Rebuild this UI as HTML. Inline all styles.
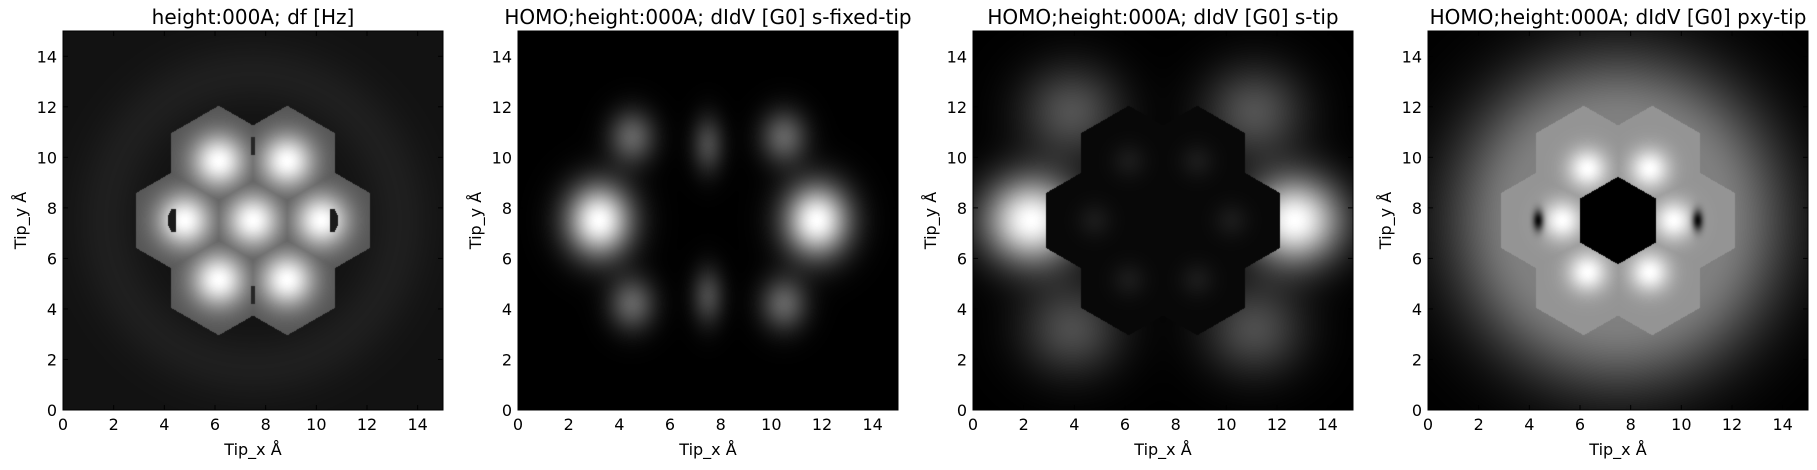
<!DOCTYPE html>
<html><head><meta charset="utf-8">
<style>
body{margin:0;background:#fff;width:1817px;height:470px;overflow:hidden;font-family:"DejaVu Sans","Liberation Sans",sans-serif;}
svg text{font-family:"DejaVu Sans","Liberation Sans",sans-serif;fill:#000;}
canvas{position:absolute;}
</style></head>
<body>
<div id="root" style="position:relative;width:1817px;height:470px;">
<svg id="svg" width="1817" height="470" style="position:absolute;left:0;top:0;"></svg>
</div>
<script>
// ---- data ----
const titles = ["height:000A; df [Hz]","HOMO;height:000A; dIdV [G0] s-fixed-tip","HOMO;height:000A; dIdV [G0] s-tip","HOMO;height:000A; dIdV [G0] pxy-tip"];
const tickValues = [0,2,4,6,8,10,12,14];
const atomX = [6.15,8.85,4.8,7.5,10.2,6.15,8.85];
const atomY = [9.85,9.85,7.5,7.5,7.5,5.15,5.15];
// panel 2 gaussian lobes
const p2X = [3.2,11.8,4.5,10.5,4.5,10.5,7.5,7.5];
const p2Y = [7.5,7.5,10.8,10.8,4.2,4.2,10.5,4.5];
const p2A = [1.0,1.0,0.38,0.38,0.38,0.38,0.28,0.28];
// panel 3 lobes (outside molecule)
const p3X = [2.3,12.7,3.9,11.1,3.9,11.1];
const p3Y = [7.5,7.5,11.8,11.8,3.2,3.2];
const p3A = [1.0,1.0,0.32,0.32,0.3,0.3];
// panel 4 bright spots and dark spots
const p4X = [6.3,8.75,5.3,9.7,6.3,8.75];
const p4Y = [9.55,9.55,7.5,7.5,5.45,5.45];
const p4DarkX = [4.35,10.65];
const p4DarkY = [7.5,7.5];

const axLeft = [63,518,973,1428], axTop = 31, axW = 380, axH = 379, range = 15;
const R = 1.9;

function hexDist(dx,dy){dx=Math.abs(dx);dy=Math.abs(dy);return Math.max(dx, dx*0.5+dy*0.866);}
function nearest(x,y){let bi=-1,bd=1e9;for(let i=0;i<atomX.length;i++){const e=Math.hypot(x-atomX[i],y-atomY[i]);if(e<bd){bd=e;bi=i;}}return [hexDist(x-atomX[bi],y-atomY[bi]),bi,bd];}
function g(x,y,cx,cy,s){const dx=x-cx,dy=y-cy;return Math.exp(-(dx*dx+dy*dy)/(2*s*s));}

function val(p,x,y){
  const [hd,bi,ed]=nearest(x,y);
  const inMol = hd<R;
  const r=Math.hypot(x-7.5,y-7.5);
  if(p===0){
    if(inMol){const dx=x-atomX[bi],dy=y-atomY[bi];let v=0.33+0.67*Math.exp(-(dx*dx+dy*dy)/1.1);
      for(let k=0;k<2;k++){const ddx=x-[4.4,10.6][k],ddy=y-7.5;const s=k?-1:1;
        const edge=s*0.15*(1-(ddy*ddy)/0.2);
        if(Math.abs(ddy)<0.45 && (k===0? (ddx>-0.12+(-edge) && ddx<0.05) : (ddx<0.12-edge && ddx>-0.05)))v=0.1;}
      if(Math.abs(x-7.5)<0.06&&((Math.abs(y-7.5)>2.6&&Math.abs(y-7.5)<3.3)))v=0.15;
      return v;}
    return 0.07+0.05*Math.exp(-Math.pow((r-5.8)/1.3,2));
  }
  if(p===1){let v=0;for(let i=0;i<p2X.length;i++){const sx_=i<2?0.9:(i<6?0.65:0.45), sy_=i<2?1.0:(i<6?0.75:0.8);v+=p2A[i]*Math.exp(-Math.pow((x-p2X[i])/sx_,2)/2-Math.pow((y-p2Y[i])/sy_,2)/2);}return Math.min(1,v);}
  if(p===2){
    if(inMol){const dx=x-atomX[bi],dy=y-atomY[bi];return 0.03+0.07*Math.exp(-(dx*dx+dy*dy)/0.5)*(bi===3?0:1);}
    let v=0;for(let i=0;i<p3X.length;i++){v+=p3A[i]*Math.exp(-Math.pow((x-p3X[i])/(i<2?1.3:1.4),2)/2-Math.pow((y-p3Y[i])/(i<2?1.2:1.3),2)/2);}return Math.min(1,v);
  }
  if(p===3){
    if(hexDist(x-7.5,y-7.5)<1.5)return 0.0;
    if(inMol){let v=0.55-0.08*Math.max(0,(ed-1.2));for(let i=0;i<p4X.length;i++)v=Math.max(v,0.58+0.42*g(x,y,p4X[i],p4Y[i],0.55));
      for(let i=0;i<2;i++)v*=1-0.95*Math.exp(-Math.pow((x-p4DarkX[i])/0.15,2)/2-Math.pow((y-p4DarkY[i])/0.3,2)/2);return v;}
    return 0.5*Math.exp(-Math.pow(Math.max(0,r-4.0)/2.6,2)/1.2);
  }
}

const root=document.getElementById('root');
for(let p=0;p<4;p++){
  const c=document.createElement('canvas');
  c.width=axW;c.height=axH;c.style.left=axLeft[p]+'px';c.style.top=axTop+'px';
  
  
  root.insertBefore(c,document.getElementById('svg'));
  const ctx=c.getContext('2d');const img=ctx.createImageData(axW,axH);
  for(let j=0;j<axH;j++)for(let i=0;i<axW;i++){
    const x=(i+0.5)/axW*range,y=range-(j+0.5)/axH*range;
    const v=Math.max(0,Math.min(1,val(p,x,y)))*255;const k=(j*axW+i)*4;
    img.data[k]=img.data[k+1]=img.data[k+2]=v;img.data[k+3]=255;}
  ctx.putImageData(img,0,0);
}

const svg=document.getElementById('svg');const NS='http://www.w3.org/2000/svg';
function el(t,a,parent){const e=document.createElementNS(NS,t);for(const k in a)e.setAttribute(k,a[k]);(parent||svg).appendChild(e);return e;}
const sx=(p,v)=>axLeft[p]+v/range*axW, sy=v=>axTop+axH-v/range*axH;
for(let p=0;p<4;p++){
  const grp=el('g',{});
  
  
  const fr=el('rect',{x:axLeft[p],y:axTop,width:axW,height:axH,fill:'none',stroke:'#000','stroke-width':1},grp);
  
  
  const t=el('text',{x:axLeft[p]+axW/2,y:24,'font-size':20,'text-anchor':'middle'},grp);t.textContent=titles[p];
  
  
  tickValues.forEach(v=>{
    const X=sx(p,v),Y=sy(v);
    el('line',{x1:X,x2:X,y1:axTop+axH,y2:axTop+axH-5,stroke:'#000'},grp);
    el('line',{x1:X,x2:X,y1:axTop,y2:axTop+5,stroke:'#000'},grp);
    el('line',{x1:axLeft[p],x2:axLeft[p]+5,y1:Y,y2:Y,stroke:'#000'},grp);
    el('line',{x1:axLeft[p]+axW,x2:axLeft[p]+axW-5,y1:Y,y2:Y,stroke:'#000'},grp);
    const tx=el('text',{x:X,y:430,'font-size':16,'text-anchor':'middle'},grp);tx.textContent=v;
    
    
    const ty=el('text',{x:axLeft[p]-6,y:Y+6,'font-size':16,'text-anchor':'end'},grp);ty.textContent=v;
    
    
  });
  const xl=el('text',{x:axLeft[p]+axW/2,y:455,'font-size':16,'text-anchor':'middle'},grp);xl.textContent='Tip_x Å';
  
  
  const yx=axLeft[p]-37,yy=axTop+axH/2;
  const yl=el('text',{x:yx,y:yy,'font-size':16,'text-anchor':'middle',transform:`rotate(-90 ${yx} ${yy})`},grp);yl.textContent='Tip_y Å';
  
  
}
</script>
</body></html>
